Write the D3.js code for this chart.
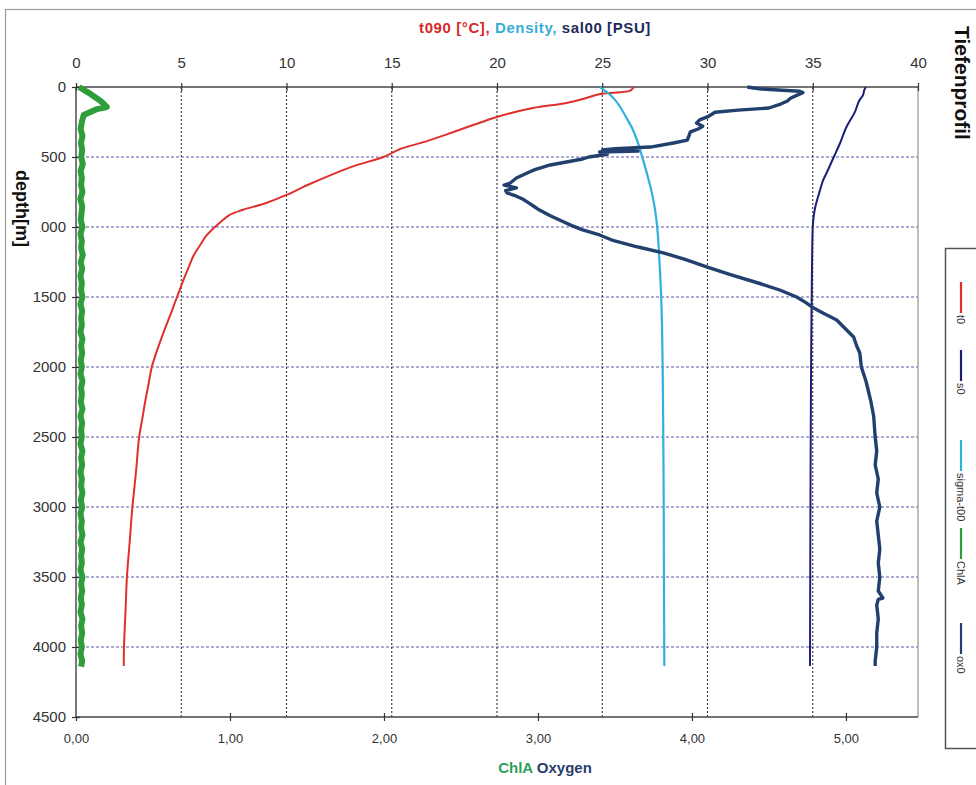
<!DOCTYPE html>
<html>
<head>
<meta charset="utf-8">
<script src="https://cdn.jsdelivr.net/npm/d3@7"></script>
<style>
  body { margin: 0; background: #fff; }
  svg { display: block; font-family: "Liberation Sans", Arial, sans-serif; }
</style>
</head>
<body>
<div id="chart"></div>
<script>
// ---- data ----
const topTicks = [0, 5, 10, 15, 20, 25, 30, 35, 40];
const bottomTicks = [0, 1, 2, 3, 4, 5];
const depthTicks = [0, 500, 1000, 1500, 2000, 2500, 3000, 3500, 4000, 4500];

// temperature t090 [°C] (top axis)
const tempDepth = [0, 10, 28, 50, 80, 114, 150, 214, 270, 329, 390, 443, 500, 560, 629, 700, 771, 830, 879, 914, 960, 1000, 1060, 1129, 1200, 1307, 1400, 1500, 1620, 1736, 1860, 2000, 2120, 2236, 2370, 2500, 2750, 3000, 3250, 3500, 3750, 4000, 4136];
const tempVal = [26.5, 26.45, 26.3, 24.9, 24.2, 23.3, 21.7, 20.0, 18.9, 17.8, 16.6, 15.4, 14.6, 13.3, 12.1, 11.0, 10.0, 9.0, 7.9, 7.3, 6.9, 6.6, 6.2, 5.9, 5.6, 5.3, 5.05, 4.8, 4.5, 4.2, 3.9, 3.6, 3.45, 3.3, 3.15, 3.0, 2.85, 2.68, 2.55, 2.42, 2.35, 2.28, 2.27];

// salinity sal00 [PSU] (top axis)
const salDepth = [0, 20, 57, 100, 179, 286, 400, 500, 600, 664, 760, 857, 930, 1000, 1500, 2000, 3000, 4136];
const salVal = [37.53, 37.45, 37.39, 37.2, 37.0, 36.6, 36.3, 36.0, 35.7, 35.5, 35.3, 35.12, 35.04, 35.0, 34.95, 34.92, 34.89, 34.87];

// density sigma-t00 (top axis)
const densDepth = [0, 20, 45, 90, 143, 220, 307, 410, 521, 650, 786, 920, 1071, 1200, 1307, 1500, 1714, 2000, 2500, 3000, 3500, 4136];
const densVal = [24.9, 25.05, 25.3, 25.6, 25.85, 26.15, 26.46, 26.72, 26.94, 27.18, 27.4, 27.55, 27.65, 27.7, 27.74, 27.8, 27.84, 27.87, 27.9, 27.92, 27.93, 27.95];

// oxygen (bottom axis)
const oxDepth = [0, 7, 14, 30, 40, 60, 80, 100, 120, 150, 165, 180, 214, 235, 257, 280, 300, 321, 379, 400, 429, 440, 450, 458, 464, 480, 500, 514, 557, 590, 614, 650, 686, 700, 720, 740, 757, 780, 800, 821, 850, 879, 920, 950, 990, 1021, 1057, 1093, 1143, 1186, 1230, 1286, 1340, 1400, 1450, 1500, 1540, 1579, 1620, 1664, 1720, 1786, 1850, 1900, 2000, 2100, 2236, 2350, 2500, 2600, 2700, 2800, 2900, 3000, 3100, 3200, 3300, 3400, 3500, 3600, 3650, 3660, 3700, 3800, 3900, 4000, 4100, 4136];
const oxVal = [4.36, 4.40, 4.45, 4.70, 4.72, 4.68, 4.64, 4.62, 4.58, 4.50, 4.30, 4.15, 4.10, 4.05, 4.03, 4.07, 4.04, 3.99, 3.97, 3.88, 3.73, 3.50, 3.42, 3.65, 3.40, 3.45, 3.33, 3.29, 3.08, 2.98, 2.93, 2.86, 2.82, 2.78, 2.86, 2.79, 2.80, 2.86, 2.90, 2.93, 2.97, 3.01, 3.08, 3.14, 3.22, 3.29, 3.40, 3.48, 3.65, 3.82, 3.95, 4.10, 4.25, 4.43, 4.57, 4.68, 4.74, 4.79, 4.86, 4.94, 4.99, 5.05, 5.07, 5.09, 5.10, 5.13, 5.16, 5.18, 5.19, 5.20, 5.19, 5.21, 5.20, 5.22, 5.20, 5.21, 5.22, 5.21, 5.22, 5.21, 5.24, 5.21, 5.20, 5.21, 5.20, 5.20, 5.19, 5.19];

// chlorophyll ChlA (bottom axis)
const chlDepth = [0, 40, 100, 143, 160, 200, 250, 300, 350, 400, 450, 500, 550, 600, 650, 700, 750, 800, 850, 900, 950, 1000, 1050, 1100, 1150, 1200, 1250, 1300, 1350, 1400, 1450, 1500, 1550, 1600, 1650, 1700, 1750, 1800, 1850, 1900, 1950, 2000, 2050, 2100, 2150, 2200, 2250, 2300, 2350, 2400, 2450, 2500, 2550, 2600, 2650, 2700, 2750, 2800, 2850, 2900, 2950, 3000, 3050, 3100, 3150, 3200, 3250, 3300, 3350, 3400, 3450, 3500, 3550, 3600, 3650, 3700, 3750, 3800, 3850, 3900, 3950, 4000, 4050, 4100, 4140];
const chlVal = [0.02, 0.08, 0.16, 0.20, 0.13, 0.05, 0.038, 0.03, 0.042, 0.032, 0.04, 0.034, 0.044, 0.03, 0.038, 0.033, 0.042, 0.028, 0.04, 0.036, 0.031, 0.042, 0.029, 0.038, 0.033, 0.044, 0.031, 0.04, 0.029, 0.038, 0.033, 0.042, 0.029, 0.04, 0.033, 0.038, 0.029, 0.042, 0.033, 0.04, 0.031, 0.038, 0.029, 0.042, 0.033, 0.038, 0.031, 0.042, 0.029, 0.04, 0.033, 0.038, 0.029, 0.042, 0.033, 0.04, 0.029, 0.038, 0.033, 0.042, 0.031, 0.04, 0.029, 0.038, 0.033, 0.042, 0.029, 0.04, 0.033, 0.038, 0.029, 0.042, 0.033, 0.04, 0.031, 0.038, 0.029, 0.042, 0.033, 0.04, 0.031, 0.038, 0.029, 0.04, 0.033];

const legendNames = ["t0", "s0", "sigma-t00", "ChlA", "ox0"];
const legendColors = ["#e0302c", "#1c1f78", "#2fb1e0", "#2e9e3a", "#22406e"];

// ---- layout ----
const W = 976, H = 785;
const svg = d3.select("#chart").append("svg")
  .attr("width", W).attr("height", H);

// outer frame
svg.append("rect")
  .attr("x", 5.5).attr("y", 9.5).attr("width", 980).attr("height", 790)
  .attr("fill", "none").attr("stroke", "#999").attr("stroke-width", 1.2);

const xTop = d3.scaleLinear().domain([0, 40]).range([76, 918]);
const xBot = d3.scaleLinear().domain([0, 5.468]).range([76, 918]);
const y = d3.scaleLinear().domain([0, 4500]).range([87, 717]);

// grid lines
svg.append("g").selectAll("line")
  .data(depthTicks.slice(1, -1))
  .join("line")
  .attr("x1", 76).attr("x2", 918)
  .attr("y1", d => y(d)).attr("y2", d => y(d))
  .attr("stroke", "#5a5aa8").attr("stroke-width", 1.1)
  .attr("stroke-dasharray", "3,2");

svg.append("g").selectAll("line")
  .data(topTicks.slice(1, -1))
  .join("line")
  .attr("x1", d => xTop(d)).attr("x2", d => xTop(d))
  .attr("y1", 87).attr("y2", 717)
  .attr("stroke", "#333").attr("stroke-width", 1.1)
  .attr("stroke-dasharray", "2,2");

// plot frame
svg.append("line").attr("x1", 918).attr("x2", 918).attr("y1", 87).attr("y2", 717)
  .attr("stroke", "#aaa").attr("stroke-width", 1.5);
svg.append("line").attr("x1", 76).attr("x2", 918).attr("y1", 87).attr("y2", 87)
  .attr("stroke", "#444").attr("stroke-width", 1.5);
svg.append("line").attr("x1", 76).attr("x2", 918).attr("y1", 717).attr("y2", 717)
  .attr("stroke", "#444").attr("stroke-width", 1.5);
svg.append("line").attr("x1", 76).attr("x2", 76).attr("y1", 87).attr("y2", 717)
  .attr("stroke", "#222").attr("stroke-width", 1.2);

// axes
const styleAxis = (g, size) => {
  g.select(".domain").remove();
  g.selectAll(".tick line").attr("stroke", "#333").attr("stroke-width", 1.2);
  g.selectAll(".tick text").attr("fill", "#333").attr("font-size", size);
};

svg.append("g").attr("transform", "translate(0,87)")
  .call(d3.axisTop(xTop).tickValues(topTicks).tickSize(4).tickPadding(15).tickFormat(d3.format("d")))
  .call(g => styleAxis(g, 15));
svg.append("g").attr("transform", "translate(0,87)")
  .call(d3.axisBottom(xTop).tickValues(topTicks).tickSize(4).tickFormat(""))
  .call(g => styleAxis(g, 15));

svg.append("g").attr("transform", "translate(76,0)")
  .call(d3.axisLeft(y).tickValues(depthTicks).tickSize(4).tickPadding(6).tickFormat(d3.format("d")))
  .call(g => styleAxis(g, 15));
svg.append("g").attr("transform", "translate(76,0)")
  .call(d3.axisRight(y).tickValues(depthTicks).tickSize(4).tickFormat(""))
  .call(g => styleAxis(g, 15));

const commaFmt = d => d3.format(".2f")(d).replace(".", ",");
svg.append("g").attr("transform", "translate(0,717)")
  .call(d3.axisBottom(xBot).tickValues(bottomTicks).tickSize(4).tickPadding(13).tickFormat(commaFmt))
  .call(g => styleAxis(g, 13));
svg.append("g").attr("transform", "translate(0,717)")
  .call(d3.axisTop(xBot).tickValues(bottomTicks.slice(1)).tickSize(4).tickFormat(""))
  .call(g => styleAxis(g, 13));

// ---- series ----
const lineTop = (depths, vals) => d3.line()
  .x((d, i) => xTop(vals[i])).y(d => y(d))
  .curve(d3.curveCatmullRom)(depths);
const lineBot = (depths, vals) => d3.line()
  .x((d, i) => xBot(vals[i])).y(d => y(d))(depths);

svg.append("path").attr("d", lineBot(chlDepth, chlVal))
  .attr("fill", "none").attr("stroke", legendColors[3]).attr("stroke-width", 6)
  .attr("stroke-linejoin", "round");
svg.append("path").attr("d", lineTop(tempDepth, tempVal))
  .attr("fill", "none").attr("stroke", legendColors[0]).attr("stroke-width", 2);
svg.append("path").attr("d", lineTop(densDepth, densVal))
  .attr("fill", "none").attr("stroke", legendColors[2]).attr("stroke-width", 2.2);
svg.append("path").attr("d", lineTop(salDepth, salVal))
  .attr("fill", "none").attr("stroke", legendColors[1]).attr("stroke-width", 2);
svg.append("path").attr("d", lineBot(oxDepth, oxVal))
  .attr("fill", "none").attr("stroke", legendColors[4]).attr("stroke-width", 3.4)
  .attr("stroke-linejoin", "round");

// ---- titles ----
const title = svg.append("text")
  .attr("x", 535).attr("y", 33).attr("text-anchor", "middle")
  .attr("font-size", 15).attr("font-weight", "bold").attr("letter-spacing", 0.6);
title.append("tspan").attr("fill", "#d42a2a").text("t090 [°C], ");
title.append("tspan").attr("fill", "#38acd8").text("Density, ");
title.append("tspan").attr("fill", "#1e2a5c").text("sal00 [PSU]");

const xTitle = svg.append("text")
  .attr("x", 545).attr("y", 773).attr("text-anchor", "middle")
  .attr("font-size", 15).attr("font-weight", "bold");
xTitle.append("tspan").attr("fill", "#2e9e5a").text("ChlA ");
xTitle.append("tspan").attr("fill", "#2a3d6a").text("Oxygen");

// depth label (covers the leading "1" of 1000 like the original)
svg.append("rect").attr("x", 10).attr("y", 166).attr("width", 30).attr("height", 104).attr("fill", "#fff");
svg.append("text")
  .attr("transform", "translate(16,170) rotate(90)")
  .attr("font-size", 18).attr("font-weight", "bold").attr("fill", "#111")
  .text("depth[m]");

svg.append("text")
  .attr("transform", "translate(955,26) rotate(90)")
  .attr("font-size", 21).attr("font-weight", "bold").attr("fill", "#111")
  .text("Tiefenprofil");

// ---- legend ----
svg.append("rect")
  .attr("x", 945.5).attr("y", 248.5).attr("width", 40).attr("height", 500)
  .attr("fill", "#fff").attr("stroke", "#555").attr("stroke-width", 1.5);

const legStarts = [282, 350, 440, 528, 623];
const leg = svg.append("g").selectAll("g")
  .data(legendNames)
  .join("g")
  .attr("transform", (d, i) => `translate(961,${legStarts[i]})`);
leg.append("line")
  .attr("x1", 0).attr("x2", 0).attr("y1", 0).attr("y2", 31)
  .attr("stroke", (d, i) => legendColors[i]).attr("stroke-width", 2.2);
leg.append("text")
  .attr("transform", "translate(0,33) rotate(90)")
  .attr("dy", "0.35em")
  .attr("font-size", 11).attr("fill", "#333")
  .text(d => d);
</script>
</body>
</html>
